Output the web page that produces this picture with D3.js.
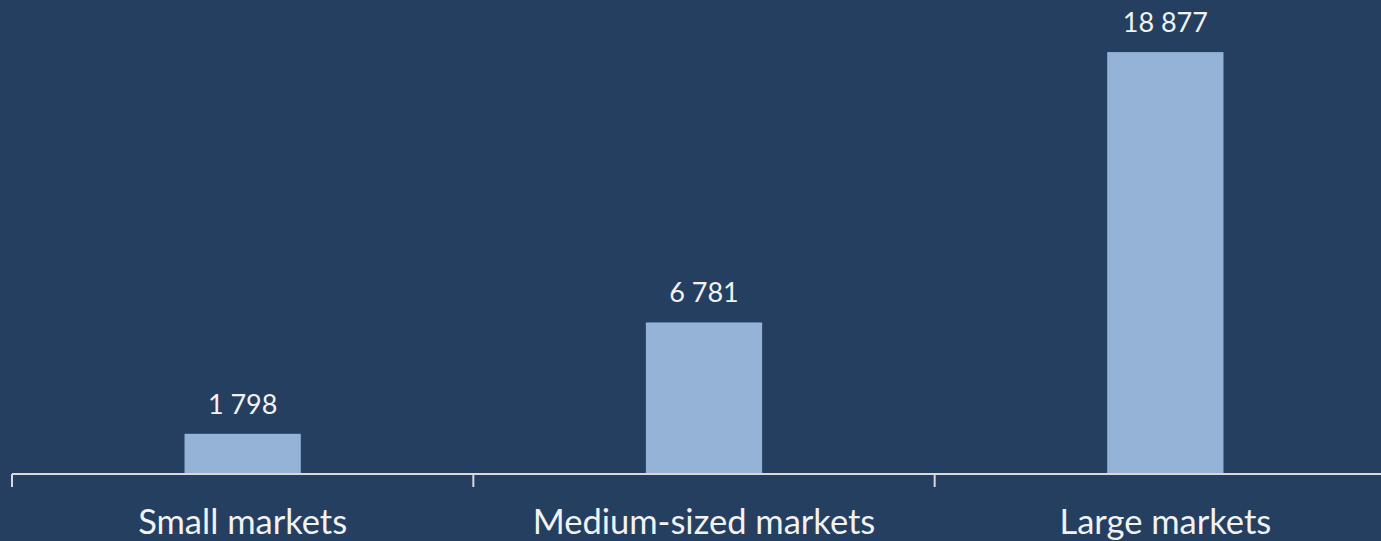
<!DOCTYPE html>
<html>
<head>
<meta charset="utf-8">
<script src="https://cdn.jsdelivr.net/npm/d3@7"></script>
<style>
  html, body { margin: 0; padding: 0; background: #253F61; }
  svg { display: block; }
</style>
</head>
<body>
<div id="chart"></div>
<script>
var categories = ["Small markets", "Medium-sized markets", "Large markets"];
var values = [1798, 6781, 18877];
var yMax = 20000;

var width = 1381,
    height = 541,
    baseline = 474,
    plotTop = 27;

var svg = d3.select("#chart")
            .append("svg")
              .attr("width", width)
              .attr("height", height);

svg.append("rect")
    .attr("width", width)
    .attr("height", height)
    .style("fill", "#253F61");

var x = d3.scaleBand()
          .range([12, 1396])
          .domain(categories)
          .padding(0);

var y = d3.scaleLinear()
          .range([baseline, plotTop])
          .domain([0, yMax]);

var barW = x.bandwidth() * 0.252;
var fmt = function(v){ return d3.format(",")(v).replace(/,/g, " "); };

svg.selectAll("rect.bar")
    .data(values)
    .enter()
    .append("rect")
      .attr("class", "bar")
      .attr("x", function(d, i) { return x(categories[i]) + x.bandwidth()/2 - barW/2; })
      .attr("y", function(d) { return y(d); })
      .attr("width", barW)
      .attr("height", function(d) { return baseline - y(d); })
      .style("fill", "#95B3D7");

svg.selectAll("text.val")
    .data(values)
    .enter()
    .append("text")
      .attr("class", "val")
      .attr("x", function(d, i) { return x(categories[i]) + x.bandwidth()/2; })
      .attr("y", function(d) { return y(d) - 20; })
      .attr("text-anchor", "middle")
      .style("font", "27px Lato")
      .style("fill", "#F2F2F2")
      .text(fmt);

// category axis, ticks sit between the groups
var edges = categories.map(function(c){ return x(c); });
svg.append("line")
    .attr("x1", edges[0]).attr("x2", width)
    .attr("y1", baseline).attr("y2", baseline)
    .style("stroke", "#D9D9D9")
    .style("stroke-width", 2);

svg.selectAll("line.tick")
    .data(edges)
    .enter()
    .append("line")
      .attr("class", "tick")
      .attr("x1", function(d){ return d; }).attr("x2", function(d){ return d; })
      .attr("y1", baseline).attr("y2", baseline + 13)
      .style("stroke", "#D9D9D9")
      .style("stroke-width", 2);

svg.selectAll("text.cat")
    .data(categories)
    .enter()
    .append("text")
      .attr("class", "cat")
      .attr("x", function(d) { return x(d) + x.bandwidth()/2; })
      .attr("y", 534)
      .attr("text-anchor", "middle")
      .style("font", "34.5px Lato")
      .style("fill", "#F2F2F2")
      .text(function(d){ return d; });
</script>
</body>
</html>
